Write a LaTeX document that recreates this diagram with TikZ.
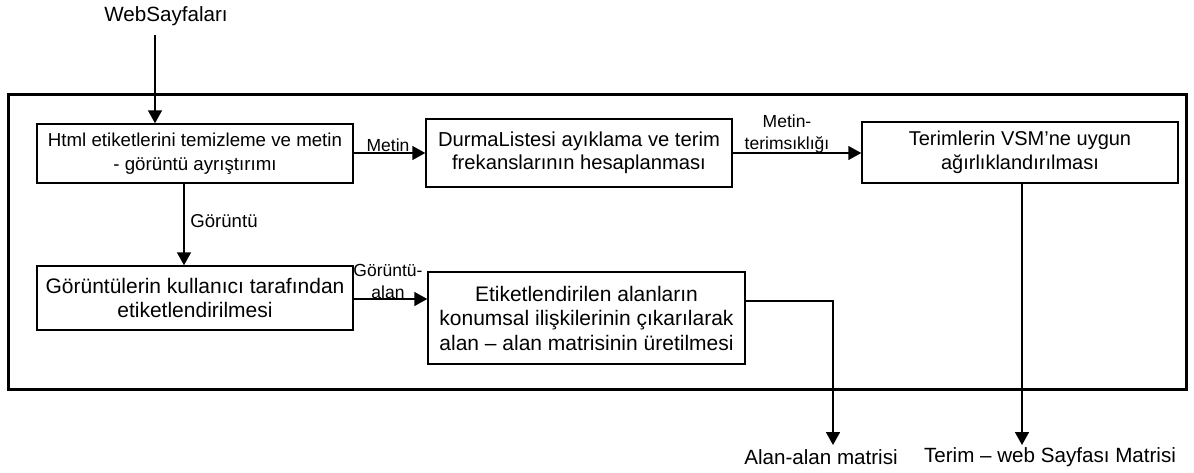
\documentclass[tikz,border=0pt]{standalone}
\usepackage{fontspec}
\setmainfont{Liberation Sans}
\usetikzlibrary{arrows.meta}
\begin{document}
\begin{tikzpicture}[x=1pt,y=-1pt,
  box/.style={draw, line width=1.5pt, align=center, inner sep=0pt},
  arr/.style={line width=1.6pt, -{Triangle[length=13pt,width=14pt]}},
  lbl/.style={inner sep=0pt, align=center, font=\fontsize{17.5}{22}\selectfont},
  outer/.style={inner sep=0pt, font=\fontsize{20.6}{24}\selectfont}]
\useasboundingbox (0,0) rectangle (1194,472);

% system frame
\draw[line width=3pt] (8,94) rectangle (1186,389);

% input and outputs
\node[outer] (web) at (166,16) {WebSayfaları};
\node[outer] (aam) at (821,457) {Alan-alan matrisi};
\node[outer] (twm) at (1050,457) {Terim – web Sayfası Matrisi};

% processing steps
\node[box, minimum width=316pt, minimum height=59pt,
      font=\fontsize{18.7}{23.5}\selectfont] (b1) at (195,153.5)
  {Html etiketlerini temizleme ve metin\\- görüntü ayrıştırımı};
\node[box, minimum width=306pt, minimum height=68pt,
      font=\fontsize{20.2}{23.5}\selectfont] (b2) at (579,153)
  {DurmaListesi ayıklama ve terim\\frekanslarının hesaplanması};
\node[box, minimum width=316pt, minimum height=61pt,
      font=\fontsize{20}{23.5}\selectfont] (b3) at (1020,152.5)
  {Terimlerin VSM’ne uygun\\ağırlıklandırılması};
\node[box, minimum width=316pt, minimum height=64pt,
      font=\fontsize{21}{24}\selectfont] (b4) at (195,298)
  {Görüntülerin kullanıcı tarafından\\etiketlendirilmesi};
\node[box, minimum width=317pt, minimum height=92pt,
      font=\fontsize{21}{24.5}\selectfont] (b5) at (586.5,318)
  {Etiketlendirilen alanların\\konumsal ilişkilerinin çıkarılarak\\alan – alan matrisinin üretilmesi};

% connectors
\coordinate (w1) at (155,35);
\draw[arr] (w1) -- (w1 |- b1.north);
\draw[arr] (b1.east |- 0,153) -- (b2.west |- 0,153);
\node[lbl, anchor=base] (lm) at (388,151) {Metin};
\draw[arr] (b2.east |- 0,153) -- (b3.west |- 0,153);
\node[lbl] (lmt) at (787,134) {Metin-\\terimsıklığı};
\coordinate (g1) at (184,0);
\draw[arr] (g1 |- b1.south) -- (g1 |- b4.north);
\node[lbl, font=\fontsize{18.6}{22}\selectfont] (lg) at (224,221) {Görüntü};
\draw[arr] (b4.east |- 0,299) -- (b5.west |- 0,299);
\node[lbl] (lga) at (388,281) {Görüntü-\\alan};
\coordinate (c5) at (833,301);
\draw[arr] (b5.east |- c5) -- (c5) -- (c5 |- 0,445);
\coordinate (c3) at (1022,0);
\draw[arr] (c3 |- b3.south) -- (c3 |- 0,445);
\end{tikzpicture}
\end{document}
